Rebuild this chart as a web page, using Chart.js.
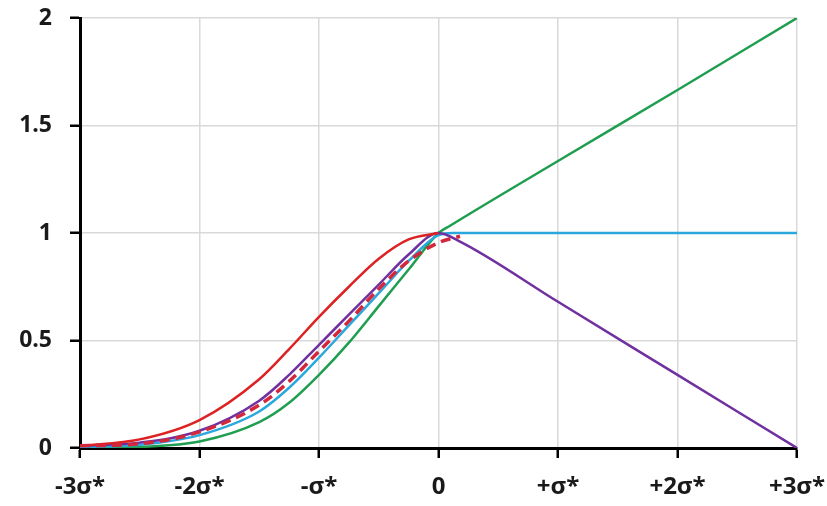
<!DOCTYPE html>
<html>
<head>
<meta charset="utf-8">
<script src="https://cdn.jsdelivr.net/npm/chart.js@4"></script>
<style>
  html, body { margin: 0; padding: 0; background: #fff; }
  #wrap { width: 827px; height: 506px; }
</style>
</head>
<body>
<div id="wrap"><canvas id="c"></canvas></div>
<script>
// x positions in units of sigma*
const X_TICKS = [-3, -2, -1, 0, 1, 2, 3];
const X_TICK_LABELS = ['-3σ*', '-2σ*', '-σ*', '0', '+σ*', '+2σ*', '+3σ*'];
const Y_TICKS = [0, 0.5, 1, 1.5, 2];
const Y_TICK_LABELS = ['0', '0.5', '1', '1.5', '2'];

const X_LEFT = [-3, -2.5, -2, -1.5, -1.25, -1, -0.75, -0.5, -0.25, 0];

const RED_X = X_LEFT;
const RED_Y = [0.01, 0.04, 0.13, 0.32, 0.46, 0.61, 0.75, 0.88, 0.97, 1.0];

const DASH_X = [...X_LEFT, 0.18];
const DASH_Y = [0.01, 0.02, 0.075, 0.2, 0.31, 0.45, 0.59, 0.74, 0.87, 0.955, 0.985];

const PURPLE_X = [...X_LEFT, 0.18, 1, 2, 3];
const PURPLE_Y = [0.01, 0.025, 0.08, 0.22, 0.34, 0.48, 0.62, 0.76, 0.9, 1.0, 0.96, 0.68, 0.34, 0];

const CYAN_X = [...X_LEFT, 0.12, 1, 2, 3];
const CYAN_Y = [0.005, 0.015, 0.06, 0.17, 0.28, 0.42, 0.57, 0.72, 0.87, 0.99, 1.0, 1.0, 1.0, 1.0];

const GREEN_X = [...X_LEFT, 0.1, 1, 2, 3];
const GREEN_Y = [0, 0.005, 0.03, 0.12, 0.21, 0.34, 0.49, 0.66, 0.83, 1.0, 1.035, 1.335, 1.665, 2.0];

const pts = (xs, ys) => xs.map((x, i) => ({ x: x, y: ys[i] }));

const line = (label, xs, ys, color, extra) => Object.assign({
  label: label,
  data: pts(xs, ys),
  borderColor: color,
  borderWidth: 2.5,
  pointRadius: 0,
  fill: false,
  cubicInterpolationMode: 'monotone'
}, extra || {});

const FONT = { family: '"Open Sans", "DejaVu Sans", sans-serif', weight: 'bold' };

new Chart(document.getElementById('c'), {
  type: 'line',
  data: {
    datasets: [
      line('dashed', DASH_X, DASH_Y, '#d2283c', { borderDash: [10, 6], borderWidth: 3.5 }),
      line('red', RED_X, RED_Y, '#dc2222'),
      line('purple', PURPLE_X, PURPLE_Y, '#7030a0'),
      line('cyan', CYAN_X, CYAN_Y, '#2aa8dc'),
      line('green', GREEN_X, GREEN_Y, '#1f9e50')
    ]
  },
  options: {
    responsive: true,
    maintainAspectRatio: false,
    animation: false,
    layout: { padding: { top: 18, right: 30, left: 0, bottom: 0 } },
    plugins: { legend: { display: false }, tooltip: { enabled: false } },
    scales: {
      x: {
        type: 'linear',
        min: -3, max: 3,
        afterBuildTicks: axis => { axis.ticks = X_TICKS.map(v => ({ value: v })); },
        afterFit: s => { s.height = 58; s.paddingLeft = 0; s.paddingRight = 0; },
        ticks: {
          callback: v => X_TICK_LABELS[X_TICKS.indexOf(v)],
          font: Object.assign({ size: 24 }, FONT),
          color: '#1a1a1a',
          maxRotation: 0,
          padding: 15
        },
        grid: { color: '#d9d9d9', lineWidth: 1.5, tickColor: '#000', tickLength: 10, tickWidth: 2.5 },
        border: { color: '#000', width: 3 }
      },
      y: {
        min: 0, max: 2,
        afterBuildTicks: axis => { axis.ticks = Y_TICKS.map(v => ({ value: v })); },
        afterFit: s => { s.width = 80; s.paddingTop = 0; s.paddingBottom = 0; },
        ticks: {
          callback: v => Y_TICK_LABELS[Y_TICKS.indexOf(v)],
          font: Object.assign({ size: 23 }, FONT),
          color: '#1a1a1a',
          padding: 18
        },
        grid: { color: '#d9d9d9', lineWidth: 1.5, tickColor: '#000', tickLength: 10, tickWidth: 2.5 },
        border: { color: '#000', width: 3 }
      }
    }
  }
});
</script>
</body>
</html>
